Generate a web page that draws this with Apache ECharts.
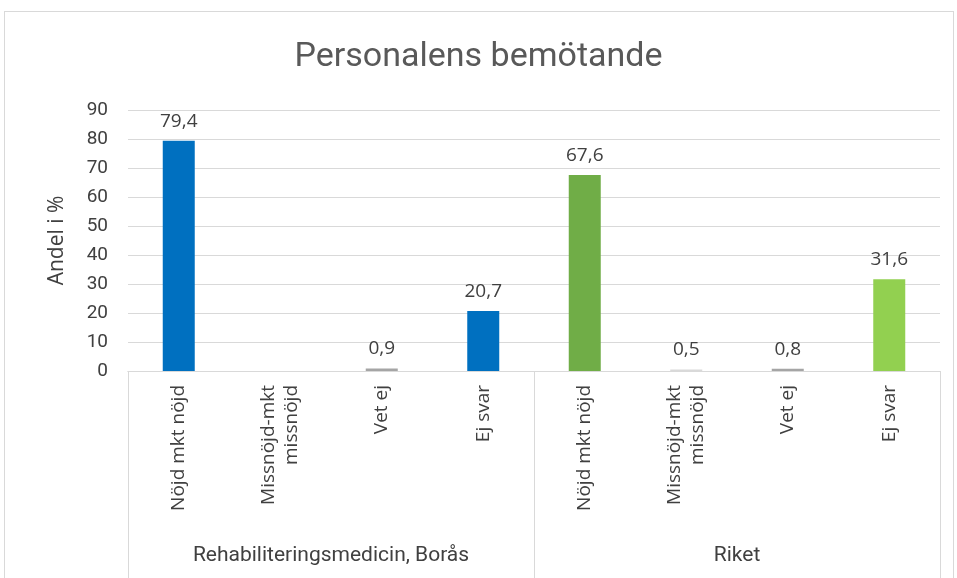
<!DOCTYPE html>
<html>
<head>
<meta charset="utf-8">
<script src="https://cdn.jsdelivr.net/npm/echarts@6/dist/echarts.min.js"></script>
<style>
  html, body { margin: 0; padding: 0; background: #fff; }
  #frame { position: absolute; left: 4px; top: 11px; width: 948px; height: 600px; border: 1px solid #d9d9d9; }
  #chart { position: absolute; left: 0; top: 0; width: 957px; height: 578px; }
</style>
</head>
<body>
<div id="frame"></div>
<div id="chart"></div>
<script>
// kategorier (upprepas per grupp)
const categories = [
  'Nöjd mkt nöjd', 'Missnöjd-mkt\nmissnöjd', 'Vet ej', 'Ej svar',
  'Nöjd mkt nöjd', 'Missnöjd-mkt\nmissnöjd', 'Vet ej', 'Ej svar'
]
const groups = ['Rehabiliteringsmedicin, Borås', 'Riket']
// andel i %, '-' = inget värde
const values = [79.4, '-', 0.9, 20.7, 67.6, 0.5, 0.8, 31.6]
const barColors = ['#0070c0', '#0070c0', '#a5a5a5', '#0070c0', '#70ad47', '#d9d9d9', '#a5a5a5', '#92d050']
const yTicks = [0, 10, 20, 30, 40, 50, 60, 70, 80, 90]

const narrow = 'Roboto, sans-serif'
const open = '"Open Sans", sans-serif'

const chart = echarts.init(document.getElementById('chart'))
chart.setOption({
  animation: false,
  title: {
    text: 'Personalens bemötande',
    left: 'center',
    top: 35,
    textStyle: { fontFamily: narrow, fontSize: 34, fontWeight: 'normal', color: '#595959' }
  },
  grid: { left: 128, right: 17, top: 110, bottom: 207 },
  xAxis: [
    {
      type: 'category',
      data: categories,
      axisLine: { lineStyle: { color: '#d9d9d9' } },
      axisTick: { show: false },
      axisLabel: {
        rotate: 90,
        interval: 0,
        margin: 14,
        fontFamily: open,
        fontSize: 19,
        lineHeight: 23,
        color: '#404040'
      }
    },
    {
      type: 'category',
      data: groups,
      position: 'bottom',
      axisLine: { lineStyle: { color: '#d9d9d9' } },
      axisTick: { show: true, length: 210, lineStyle: { color: '#d9d9d9' } },
      axisLabel: {
        margin: 174,
        fontFamily: narrow,
        fontSize: 21,
        color: '#404040'
      }
    }
  ],
  yAxis: {
    type: 'value',
    min: yTicks[0],
    max: yTicks[yTicks.length - 1],
    interval: 10,
    name: 'Andel i %',
    nameLocation: 'middle',
    nameGap: 60,
    nameTextStyle: { fontFamily: open, fontSize: 21, color: '#404040' },
    axisLine: { show: false },
    axisTick: { show: false },
    axisLabel: { fontFamily: narrow, fontSize: 19, color: '#404040', margin: 20 },
    splitLine: { lineStyle: { color: '#d9d9d9' } }
  },
  series: [{
    type: 'bar',
    xAxisIndex: 0,
    barWidth: 32,
    data: values.map((v, i) => ({ value: v, itemStyle: { color: barColors[i] } })),
    label: {
      show: true,
      position: 'top',
      distance: 10,
      fontFamily: open,
      fontSize: 19,
      color: '#404040',
      formatter: p => (typeof p.value === 'number' ? p.value.toFixed(1).replace('.', ',') : '')
    }
  }]
})
</script>
</body>
</html>
